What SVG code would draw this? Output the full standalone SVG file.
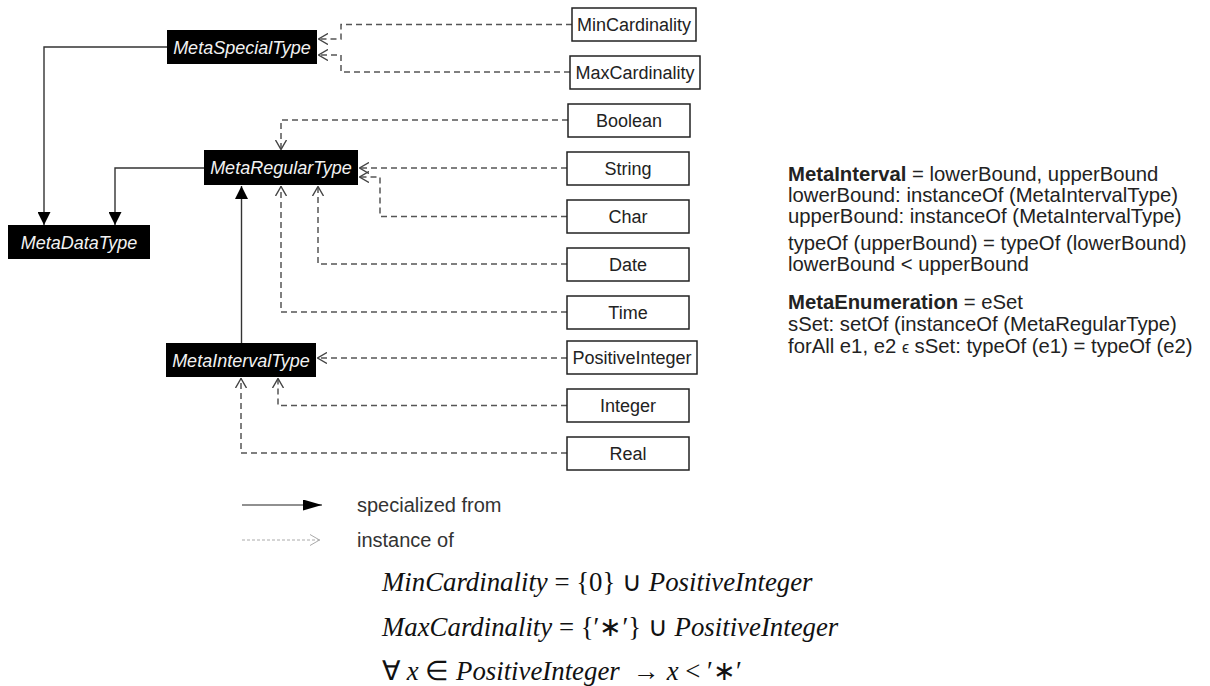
<svg xmlns="http://www.w3.org/2000/svg" width="1210" height="686" viewBox="0 0 1210 686">
<style>
.meta{fill:#000;}
.metaTxt{font-family:"Liberation Sans",Arial,sans-serif;font-size:18px;font-style:italic;fill:#f2f2f2;text-anchor:middle;}
.box{fill:#fff;stroke:#222;stroke-width:1.5;}
.boxTxt{font-family:"Liberation Sans",Arial,sans-serif;font-size:18px;fill:#222;text-anchor:middle;}
.solid{fill:none;stroke:#333;stroke-width:1.4;}
.dash{fill:none;stroke:#555;stroke-width:1.5;stroke-dasharray:6,4;}
.note{font-family:"Liberation Sans",Arial,sans-serif;font-size:20.3px;fill:#222;}
.legend{font-family:"Liberation Sans",Arial,sans-serif;font-size:20px;fill:#333;}
.math{font-family:"Liberation Serif","Times New Roman",serif;font-size:26.8px;fill:#111;}
.it{font-style:italic;}
</style>
<defs>
<marker id="tri" viewBox="0 0 13 13" refX="13" refY="6.5" markerWidth="13" markerHeight="13" markerUnits="userSpaceOnUse" orient="auto">
<path d="M0,0 L13,6.5 L0,13 Z" fill="#000"/>
</marker>
<marker id="triLegend" viewBox="0 0 19 11" refX="19" refY="5.5" markerWidth="19" markerHeight="11" markerUnits="userSpaceOnUse" orient="auto">
<path d="M0,0 L19,5.5 L0,11 Z" fill="#000"/>
</marker>
<marker id="open" viewBox="0 0 10 12" refX="10" refY="6" markerWidth="10" markerHeight="12" markerUnits="userSpaceOnUse" orient="auto">
<path d="M0,0.5 L9.5,6 L0,11.5" fill="none" stroke="#444" stroke-width="1.4"/>
</marker>
<marker id="openLegend" viewBox="0 0 10 12" refX="10" refY="6" markerWidth="10" markerHeight="12" markerUnits="userSpaceOnUse" orient="auto">
<path d="M0,0.5 L9.5,6 L0,11.5" fill="none" stroke="#aaa" stroke-width="1"/>
</marker>
</defs>
<rect width="1210" height="686" fill="#fff"/>

<g id="connectors">
<path class="solid" d="M167,47 H44 V225" marker-end="url(#tri)"/>
<path class="solid" d="M204,168 H115 V225" marker-end="url(#tri)"/>
<path class="solid" d="M241.5,343 V186" marker-end="url(#tri)"/>
<path class="dash" d="M572,24.5 H341 V39 H318" marker-end="url(#open)"/>
<path class="dash" d="M570,72 H341 V55 H318" marker-end="url(#open)"/>
<path class="dash" d="M568,120 H281 V150" marker-end="url(#open)"/>
<path class="dash" d="M567,168 H359" marker-end="url(#open)"/>
<path class="dash" d="M567,216.5 H380 V177 H359" marker-end="url(#open)"/>
<path class="dash" d="M567,264 H318 V186" marker-end="url(#open)"/>
<path class="dash" d="M567,312 H281 V186" marker-end="url(#open)"/>
<path class="dash" d="M567,358 H317" marker-end="url(#open)"/>
<path class="dash" d="M567,405.5 H278 V378" marker-end="url(#open)"/>
<path class="dash" d="M567,453 H241 V378" marker-end="url(#open)"/>
</g>

<g id="MetaSpecialType"><rect class="meta" x="167" y="30" width="150" height="34"/><text class="metaTxt" x="242" y="53.5">MetaSpecialType</text></g>
<g id="MetaRegularType"><rect class="meta" x="204" y="150" width="154" height="35"/><text class="metaTxt" x="281" y="174">MetaRegularType</text></g>
<g id="MetaDataType"><rect class="meta" x="8" y="225" width="142" height="34"/><text class="metaTxt" x="79" y="248.5">MetaDataType</text></g>
<g id="MetaIntervalType"><rect class="meta" x="166" y="343" width="150" height="34"/><text class="metaTxt" x="241" y="366.5">MetaIntervalType</text></g>

<g id="MinCardinality"><rect class="box" x="572" y="8" width="124" height="33"/><text class="boxTxt" x="634" y="31">MinCardinality</text></g>
<g id="MaxCardinality"><rect class="box" x="570" y="56" width="130" height="33"/><text class="boxTxt" x="635" y="79">MaxCardinality</text></g>
<g id="Boolean"><rect class="box" x="568" y="104" width="122" height="33"/><text class="boxTxt" x="629" y="127">Boolean</text></g>
<g id="String"><rect class="box" x="567" y="152" width="122" height="33"/><text class="boxTxt" x="628" y="175">String</text></g>
<g id="Char"><rect class="box" x="567" y="200" width="122" height="33"/><text class="boxTxt" x="628" y="223">Char</text></g>
<g id="Date"><rect class="box" x="567" y="248" width="122" height="33"/><text class="boxTxt" x="628" y="271">Date</text></g>
<g id="Time"><rect class="box" x="567" y="296" width="122" height="33"/><text class="boxTxt" x="628" y="319">Time</text></g>
<g id="PositiveInteger"><rect class="box" x="567" y="341" width="130" height="33"/><text class="boxTxt" x="632" y="364">PositiveInteger</text></g>
<g id="Integer"><rect class="box" x="567" y="389" width="122" height="33"/><text class="boxTxt" x="628" y="412">Integer</text></g>
<g id="Real"><rect class="box" x="567" y="437" width="122" height="33"/><text class="boxTxt" x="628" y="460">Real</text></g>

<g id="notes">
<text class="note" x="788" y="181"><tspan font-weight="bold">MetaInterval</tspan> = lowerBound, upperBound</text>
<text class="note" x="788" y="202">lowerBound: instanceOf (MetaIntervalType)</text>
<text class="note" x="788" y="223">upperBound: instanceOf (MetaIntervalType)</text>
<text class="note" x="788" y="250">typeOf (upperBound) = typeOf (lowerBound)</text>
<text class="note" x="788" y="271">lowerBound &lt; upperBound</text>
<text class="note" x="788" y="309"><tspan font-weight="bold">MetaEnumeration</tspan> = eSet</text>
<text class="note" x="788" y="331">sSet: setOf (instanceOf (MetaRegularType)</text>
<text class="note" x="788" y="353">forAll e1, e2 <tspan font-size="16">ϵ</tspan> sSet: typeOf (e1) = typeOf (e2)</text>
</g>

<g id="legend">
<path d="M242,505 H322" stroke="#222" stroke-width="1.2" fill="none" marker-end="url(#triLegend)"/>
<text class="legend" x="357" y="512">specialized from</text>
<path d="M242,540 H320" stroke="#aaa" stroke-width="1" stroke-dasharray="3,2" fill="none" marker-end="url(#openLegend)"/>
<text class="legend" x="357" y="547">instance of</text>
</g>

<g id="math">
<text class="math" x="382" y="591"><tspan class="it">MinCardinality</tspan> = {0} ∪ <tspan class="it">PositiveInteger</tspan></text>
<text class="math" x="382" y="636"><tspan class="it">MaxCardinality</tspan> = {′∗′} ∪ <tspan class="it">PositiveInteger</tspan></text>
<text class="math" x="382" y="680" xml:space="preserve">∀ <tspan class="it">x</tspan> ∈ <tspan class="it">PositiveInteger</tspan>  → <tspan class="it">x</tspan> &lt; ′∗′</text>
</g>
</svg>
